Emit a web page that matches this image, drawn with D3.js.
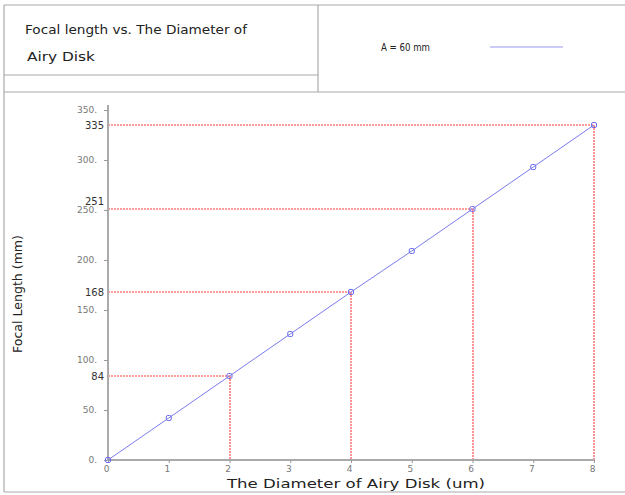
<!DOCTYPE html>
<html>
<head>
<meta charset="utf-8">
<script src="https://cdn.jsdelivr.net/npm/d3@7"></script>
<style>
  body { margin: 0; background: #fff; }
  svg { display: block; }
</style>
</head>
<body>
<div id="wrapper"></div>
<script>
// data
const diameters = [0, 1, 2, 3, 4, 5, 6, 7, 8];
const focalLengths = [0, 42, 84, 126, 168, 209, 251, 293, 335];
const markedDiameters = [2, 4, 6, 8];
const markedLabels = ["84", "168", "251", "335"];
const yTicks = [0, 50, 100, 150, 200, 250, 300, 350];
const xTicks = [0, 1, 2, 3, 4, 5, 6, 7, 8];
const titleLines = ["Focal length vs. The Diameter of", "Airy Disk"];
const legendLabel = "A = 60 mm";

const width = 625, height = 495;
const font = "'DejaVu Sans', sans-serif";
const lineColor = "#7b7bee";
const gridGray = "#aaaaaa";

const svg = d3.select("#wrapper").append("svg")
  .attr("width", width)
  .attr("height", height)
  .style("font-family", font);

// header boxes
const frame = svg.append("g")
  .attr("stroke", gridGray)
  .attr("stroke-width", 1.2)
  .attr("fill", "none");
frame.append("line").attr("x1", 4).attr("x2", width).attr("y1", 5).attr("y2", 5);
frame.append("line").attr("x1", 4).attr("x2", 4).attr("y1", 5).attr("y2", 492);
frame.append("line").attr("x1", 318).attr("x2", 318).attr("y1", 5).attr("y2", 92);
frame.append("line").attr("x1", 4).attr("x2", 318).attr("y1", 75).attr("y2", 75);
frame.append("line").attr("x1", 4).attr("x2", width).attr("y1", 92).attr("y2", 92);
frame.append("line").attr("x1", 4).attr("x2", width).attr("y1", 492).attr("y2", 492);

svg.append("text")
  .attr("x", 25).attr("y", 34)
  .attr("font-size", 13)
  .attr("fill", "#222")
  .attr("textLength", 222)
  .attr("lengthAdjust", "spacingAndGlyphs")
  .text(titleLines[0]);
svg.append("text")
  .attr("x", 27).attr("y", 61)
  .attr("font-size", 13)
  .attr("fill", "#222")
  .attr("textLength", 68)
  .attr("lengthAdjust", "spacingAndGlyphs")
  .text(titleLines[1]);

svg.append("text")
  .attr("x", 381).attr("y", 51)
  .attr("font-size", 10)
  .attr("fill", "#222")
  .attr("textLength", 49)
  .attr("lengthAdjust", "spacingAndGlyphs")
  .text(legendLabel);
svg.append("line")
  .attr("x1", 490).attr("x2", 563)
  .attr("y1", 47).attr("y2", 47)
  .attr("stroke", "#9a9af0")
  .attr("stroke-width", 1.2);

// scales
const x = d3.scaleLinear().domain([0, 8]).range([108, 594]);
const y = d3.scaleLinear().domain([0, 350]).range([460, 110]);
const px = v => Math.round(v);

const points = diameters.map((d, i) => ({ d: d, f: focalLengths[i] }));
const marked = markedDiameters.map((d, i) => ({ d: d, f: focalLengths[diameters.indexOf(d)], label: markedLabels[i] }));

// red dashed guides
const guides = svg.append("g")
  .attr("stroke", "#ff3a3a")
  .attr("stroke-width", 1.1)
  .attr("stroke-dasharray", "2,1");
guides.selectAll(".h").data(marked).join("line")
  .attr("x1", x(0)).attr("x2", d => x(d.d))
  .attr("y1", d => px(y(d.f))).attr("y2", d => px(y(d.f)));
guides.selectAll(".v").data(marked).join("line")
  .attr("x1", d => px(x(d.d))).attr("x2", d => px(x(d.d)))
  .attr("y1", d => y(d.f)).attr("y2", y(0));

// axes
const yAxis = svg.append("g")
  .attr("transform", `translate(${x(0)},0)`)
  .call(d3.axisLeft(y).tickValues(yTicks).tickSize(4).tickPadding(7).tickFormat(d => d + "."));
const xAxis = svg.append("g")
  .attr("transform", `translate(0,${y(0)})`)
  .call(d3.axisBottom(x).tickValues(xTicks).tickSize(3).tickPadding(3).tickFormat(d3.format("d")));
[yAxis, xAxis].forEach(a => {
  a.select(".domain").attr("stroke", gridGray).attr("stroke-width", 2);
  a.selectAll(".tick line").attr("stroke", "#999");
  a.selectAll(".tick text").attr("fill", "#777").attr("font-size", 9).attr("font-family", font);
});
yAxis.select(".domain").attr("d", `M0,${y(350) - 5}V${y(0)}`);
xAxis.select(".domain").attr("d", `M${x(0)},0H${x(8)}`);
xAxis.selectAll(".tick text").attr("dx", -2);

// marked value labels
svg.append("g").selectAll("text").data(marked).join("text")
  .attr("x", x(0) - 4)
  .attr("y", d => y(d.f) + (d.label === "251" ? -4 : 4))
  .attr("text-anchor", "end")
  .attr("font-size", 10)
  .attr("fill", "#333")
  .text(d => d.label);

// series line and markers
svg.append("path")
  .datum(points)
  .attr("fill", "none")
  .attr("stroke", lineColor)
  .attr("stroke-width", 1)
  .attr("d", d3.line().x(d => x(d.d)).y(d => y(d.f)));
svg.append("g").selectAll("rect").data(points).join("rect")
  .attr("x", d => x(d.d) - 2.5)
  .attr("y", d => y(d.f) - 2.5)
  .attr("width", 5).attr("height", 5)
  .attr("rx", 1.5)
  .attr("fill", "none")
  .attr("stroke", "#6a6aee")
  .attr("stroke-width", 1);

// axis titles
svg.append("text")
  .attr("x", 356).attr("y", 488)
  .attr("text-anchor", "middle")
  .attr("font-size", 13)
  .attr("fill", "#222")
  .attr("textLength", 258)
  .attr("lengthAdjust", "spacingAndGlyphs")
  .text("The Diameter of Airy Disk (um)");
svg.append("text")
  .attr("transform", "translate(22,294) rotate(-90)")
  .attr("text-anchor", "middle")
  .attr("font-size", 12)
  .attr("fill", "#222")
  .attr("textLength", 118)
  .attr("lengthAdjust", "spacingAndGlyphs")
  .text("Focal Length (mm)");
</script>
</body>
</html>
